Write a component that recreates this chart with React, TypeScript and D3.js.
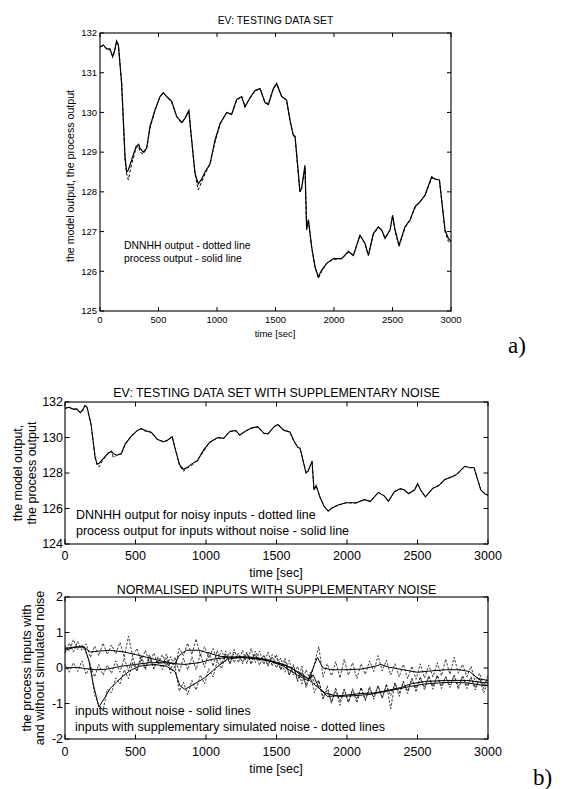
import React from 'react';
import * as d3 from 'd3';

// time axis for the output plots (sec)
const TIME = [
  0, 28, 57, 85, 108, 125, 142, 157, 185, 214,
  228, 242, 270, 308, 330, 342, 370, 399, 427, 470,
  513, 541, 570, 613, 655, 698, 726, 760, 778, 812,
  840, 869, 897, 940, 983, 1026, 1083, 1125, 1168, 1211,
  1239, 1282, 1325, 1368, 1410, 1439, 1482, 1510, 1553, 1595,
  1624, 1652, 1667, 1681, 1709, 1724, 1752, 1766, 1781, 1809,
  1838, 1866, 1895, 1937, 1994, 2066, 2123, 2166, 2222, 2265,
  2294, 2336, 2379, 2408, 2436, 2479, 2501, 2522, 2556, 2607,
  2650, 2693, 2735, 2778, 2835, 2864, 2901, 2920, 2949, 2977, 3000,
];

// process output - solid line
const PROCESS = [
  131.65, 131.7, 131.6, 131.6, 131.4, 131.55, 131.8, 131.7, 130.73, 128.88,
  128.5, 128.55, 128.8, 129.14, 129.2, 129.1, 129.0, 129.1, 129.64, 130.06,
  130.4, 130.5, 130.4, 130.28, 129.9, 129.75, 129.85, 130.05, 129.47, 128.47,
  128.2, 128.32, 128.5, 128.7, 129.3, 129.72, 130.0, 129.95, 130.33, 130.4,
  130.14, 130.37, 130.55, 130.6, 130.25, 130.2, 130.6, 130.73, 130.4, 130.31,
  129.8, 129.43, 129.4, 128.95, 128.0, 128.1, 128.67, 127.04, 127.3, 126.62,
  126.11, 125.86, 126.03, 126.2, 126.32, 126.32, 126.5, 126.4, 126.91, 126.7,
  126.4, 126.95, 127.12, 127.04, 126.83, 127.04, 127.41, 127.04, 126.66, 127.12,
  127.29, 127.63, 127.75, 127.92, 128.38, 128.32, 128.3, 127.8, 127.04, 126.83, 126.75,
];

// DNNHH output - dotted line (a)
const MODEL = [
  131.65, 131.68, 131.6, 131.58, 131.42, 131.55, 131.78, 131.7, 130.75, 128.8,
  128.45, 128.3, 128.7, 129.1, 129.15, 129.0, 128.95, 129.1, 129.6, 130.05,
  130.4, 130.48, 130.4, 130.25, 129.9, 129.72, 129.85, 130.0, 129.45, 128.45,
  128.05, 128.25, 128.45, 128.7, 129.25, 129.7, 130.0, 129.95, 130.3, 130.4,
  130.15, 130.35, 130.55, 130.6, 130.25, 130.22, 130.6, 130.7, 130.4, 130.3,
  129.8, 129.4, 129.4, 128.9, 128.0, 128.1, 128.6, 127.1, 127.3, 126.6,
  126.1, 125.82, 126.0, 126.2, 126.3, 126.32, 126.48, 126.4, 126.9, 126.7,
  126.4, 126.92, 127.1, 127.04, 126.83, 127.05, 127.4, 127.0, 126.62, 127.1,
  127.3, 127.6, 127.75, 127.9, 128.35, 128.32, 128.3, 127.8, 127.0, 126.75, 126.7,
];

// DNNHH output for noisy inputs - dotted line (b)
const MODEL_NOISY = [
  131.62, 131.72, 131.58, 131.62, 131.4, 131.5, 131.8, 131.68, 130.7, 128.85,
  128.45, 128.35, 128.75, 129.1, 129.25, 128.85, 129.05, 129.05, 129.6, 130.1,
  130.38, 130.5, 130.35, 130.3, 129.88, 129.78, 129.82, 130.05, 129.5, 128.42,
  128.1, 128.3, 128.4, 128.75, 129.2, 129.75, 129.98, 129.95, 130.35, 130.38,
  130.12, 130.38, 130.52, 130.6, 130.22, 130.2, 130.62, 130.72, 130.42, 130.3,
  129.78, 129.45, 129.38, 128.95, 128.05, 128.1, 128.65, 127.05, 127.28, 126.65,
  126.12, 125.85, 126.05, 126.18, 126.33, 126.3, 126.52, 126.38, 126.9, 126.72,
  126.42, 126.95, 127.1, 127.02, 126.85, 127.05, 127.38, 127.05, 126.65, 127.15,
  127.28, 127.62, 127.78, 127.9, 128.38, 128.3, 128.28, 127.82, 127.05, 126.85, 126.75,
];

// normalised inputs without noise - solid lines
const IN1_T = [0, 50, 100, 140, 170, 200, 240, 280, 320, 370, 420, 470, 530, 630, 720, 780, 815, 850, 910, 990, 1070, 1150, 1250, 1350, 1450, 1550, 1650, 1720, 1760, 1800, 1860, 1950, 2100, 2200, 2300, 2380, 2450, 2550, 2700, 2850, 2950, 3000];
const IN1_V = [0.55, 0.58, 0.6, 0.58, 0.2, -0.45, -1.1, -0.85, -0.58, -0.38, -0.2, -0.05, 0.05, 0.1, 0.05, -0.1, -0.5, -0.6, -0.47, -0.28, 0.0, 0.25, 0.3, 0.28, 0.2, 0.05, -0.2, -0.35, -0.2, -0.55, -0.8, -0.78, -0.72, -0.7, -0.62, -0.55, -0.45, -0.38, -0.35, -0.35, -0.4, -0.42];
const IN2_T = [0, 60, 130, 180, 250, 320, 420, 500, 600, 700, 780, 810, 860, 950, 1020, 1100, 1200, 1300, 1400, 1500, 1600, 1680, 1730, 1770, 1790, 1830, 1900, 2000, 2100, 2200, 2240, 2300, 2400, 2500, 2600, 2700, 2800, 2870, 2930, 3000];
const IN2_V = [0.5, 0.58, 0.6, 0.45, 0.48, 0.5, 0.45, 0.38, 0.28, 0.18, 0.12, 0.35, 0.5, 0.5, 0.42, 0.33, 0.3, 0.28, 0.23, 0.15, 0.02, -0.22, -0.3, 0.1, 0.3, 0.0, -0.05, -0.05, -0.03, 0.05, 0.1, 0.02, -0.05, -0.12, -0.08, -0.05, -0.05, -0.1, -0.3, -0.35];
const IN3_T = [0, 80, 150, 220, 300, 400, 500, 600, 700, 780, 850, 950, 1050, 1150, 1250, 1350, 1450, 1550, 1650, 1720, 1780, 1850, 1950, 2050, 2150, 2250, 2350, 2450, 2550, 2650, 2750, 2850, 2950, 3000];
const IN3_V = [0.0, 0.02, -0.02, -0.05, -0.03, 0.05, 0.1, 0.15, 0.15, 0.12, 0.1, 0.15, 0.25, 0.3, 0.32, 0.3, 0.22, 0.1, -0.1, -0.3, -0.5, -0.72, -0.8, -0.78, -0.75, -0.68, -0.6, -0.52, -0.45, -0.42, -0.4, -0.42, -0.48, -0.5];

// inputs with supplementary simulated noise - dotted lines (sampled every 30 s)
const NOISE_T = [
  0, 30, 60, 90, 120, 150, 180, 210, 240, 270,
  300, 330, 360, 390, 420, 450, 480, 510, 540, 570,
  600, 630, 660, 690, 720, 750, 780, 810, 840, 870,
  900, 930, 960, 990, 1020, 1050, 1080, 1110, 1140, 1170,
  1200, 1230, 1260, 1290, 1320, 1350, 1380, 1410, 1440, 1470,
  1500, 1530, 1560, 1590, 1620, 1650, 1680, 1710, 1740, 1770,
  1800, 1830, 1860, 1890, 1920, 1950, 1980, 2010, 2040, 2070,
  2100, 2130, 2160, 2190, 2220, 2250, 2280, 2310, 2340, 2370,
  2400, 2430, 2460, 2490, 2520, 2550, 2580, 2610, 2640, 2670,
  2700, 2730, 2760, 2790, 2820, 2850, 2880, 2910, 2940, 2970,
  3000,
];
const NOISY1 = [
  0.62, 0.48, 0.8, 0.52, 0.66, 0.42, 0.1, -0.75, -1.05, -1.2,
  -0.6, -0.7, -0.28, -0.45, -0.05, -0.3, 0.15, -0.1, 0.25, -0.05,
  0.3, -0.02, 0.22, -0.05, 0.28, -0.15, 0.05, -0.65, -0.4, -0.75,
  -0.35, -0.62, -0.2, -0.45, -0.02, -0.25, 0.2, -0.02, 0.38, 0.12,
  0.45, 0.32, 0.18, 0.42, 0.15, 0.48, 0.2, 0.36, 0.08, 0.38,
  0.3, -0.05, 0.18, -0.2, 0.05, -0.38, -0.1, -0.5, -0.12, -0.45,
  -0.35, -0.85, -0.62, -0.95, -0.65, -0.92, -0.6, -0.98, -0.62, -0.88,
  -0.55, -0.9, -0.58, -0.82, -0.5, -0.85, -0.48, -0.78, -0.42, -0.7,
  -0.38, -0.65, -0.3, -0.58, -0.25, -0.55, -0.22, -0.52, -0.2, -0.5,
  -0.25, -0.48, -0.2, -0.52, -0.22, -0.5, -0.25, -0.55, -0.28, -0.58,
  -0.3,
];
const NOISY2 = [
  0.42, 0.7, 0.45, 0.75, 0.5, 0.68, 0.3, 0.62, 0.35, 0.7,
  0.38, 0.65, 0.4, 0.72, 0.3, 0.9, 0.32, 0.55, 0.2, 0.5,
  0.15, 0.42, 0.1, 0.38, 0.05, 0.32, 0.0, 0.55, 0.35, 0.7,
  0.38, 0.82, 0.35, 0.6, 0.28, 0.55, 0.2, 0.5, 0.18, 0.45,
  0.15, 0.42, 0.12, 0.45, 0.1, 0.4, 0.08, 0.35, 0.05, 0.32,
  0.0, 0.28, -0.12, 0.22, -0.2, 0.05, -0.45, -0.05, -0.35, 0.15,
  0.6, -0.25, 0.12, -0.22, 0.18, -0.28, 0.25, -0.2, 0.15, -0.3,
  0.12, -0.18, 0.2, -0.1, 0.35, -0.08, 0.22, -0.2, 0.12, -0.25,
  0.1, -0.3, 0.05, -0.32, 0.12, -0.28, 0.08, -0.25, 0.15, -0.22,
  0.25, -0.18, 0.3, -0.15, 0.1, -0.25, 0.05, -0.4, -0.15, -0.5,
  -0.22,
];
const NOISY3 = [
  0.1, -0.12, 0.15, -0.1, 0.2, -0.18, 0.05, -0.25, 0.1, -0.2,
  0.08, -0.15, 0.2, -0.12, 0.28, -0.08, 0.3, -0.05, 0.35, 0.0,
  0.38, -0.02, 0.32, 0.05, 0.4, -0.05, 0.3, -0.12, 0.28, -0.05,
  0.32, -0.05, 0.4, 0.02, 0.45, 0.05, 0.5, 0.1, 0.48, 0.12,
  0.52, 0.15, 0.5, 0.12, 0.55, 0.15, 0.48, 0.1, 0.45, 0.05,
  0.38, -0.05, 0.28, -0.2, 0.1, -0.35, 0.05, -0.55, -0.2, -0.7,
  -0.35, -0.88, -0.5, -1.0, -0.55, -1.05, -0.6, -0.95, -0.58, -0.98,
  -0.55, -0.92, -0.52, -0.88, -0.5, -0.85, -0.45, -1.15, -0.42, -0.8,
  -0.38, -0.72, -0.3, -0.68, -0.28, -0.62, -0.25, -0.6, -0.22, -0.58,
  -0.25, -0.55, -0.22, -0.6, -0.25, -0.58, -0.28, -0.62, -0.3, -0.7,
  -0.4,
];

const X_TICKS = [0, 500, 1000, 1500, 2000, 2500, 3000];
const A_Y_TICKS = [125, 126, 127, 128, 129, 130, 131, 132];
const B1_Y_TICKS = [124, 126, 128, 130, 132];
const B2_Y_TICKS = [-2, -1, 0, 1, 2];

const FONT = '"Liberation Sans", Arial, Helvetica, sans-serif';

type Box = { l: number; t: number; r: number; b: number };

function Frame({ box, x, y, yTicks, fs, tick, xOff, yOff }: any) {
  return (
    <g>
      <rect x={box.l} y={box.t} width={box.r - box.l} height={box.b - box.t} fill="none" stroke="#000" strokeWidth={1.1} />
      {X_TICKS.map((v) => (
        <g key={'x' + v}>
          <line x1={x(v)} x2={x(v)} y1={box.b} y2={box.b - tick} stroke="#000" />
          <line x1={x(v)} x2={x(v)} y1={box.t} y2={box.t + tick} stroke="#000" />
          <text x={x(v)} y={box.b + xOff} textAnchor="middle" fontSize={fs}>{v}</text>
        </g>
      ))}
      {yTicks.map((v: number) => (
        <g key={'y' + v}>
          <line x1={box.l} x2={box.l + tick} y1={y(v)} y2={y(v)} stroke="#000" />
          <line x1={box.r} x2={box.r - tick} y1={y(v)} y2={y(v)} stroke="#000" />
          <text x={box.l - yOff} y={y(v)} dy="0.35em" textAnchor="end" fontSize={fs}>{v}</text>
        </g>
      ))}
    </g>
  );
}

export default function App() {
  const boxA: Box = { l: 100, t: 33, r: 451, b: 311 };
  const boxB1: Box = { l: 65, t: 402, r: 488, b: 544 };
  const boxB2: Box = { l: 65, t: 597, r: 488, b: 739 };

  const xA = d3.scaleLinear().domain([0, 3000]).range([boxA.l, boxA.r]);
  const yA = d3.scaleLinear().domain([125, 132]).range([boxA.b, boxA.t]);
  const xB = d3.scaleLinear().domain([0, 3000]).range([boxB1.l, boxB1.r]);
  const yB1 = d3.scaleLinear().domain([124, 132]).range([boxB1.b, boxB1.t]);
  const yB2 = d3.scaleLinear().domain([-2, 2]).range([boxB2.b, boxB2.t]);

  const path = (ts: number[], vs: number[], x: any, y: any) =>
    d3.line<number>().x((_, i) => x(ts[i])).y((d) => y(d))(vs) || '';

  const solids = [[IN1_T, IN1_V], [IN2_T, IN2_V], [IN3_T, IN3_V]];
  const noisy = [NOISY1, NOISY2, NOISY3];

  return (
    <svg width={563} height={789} style={{ position: 'absolute', left: 0, top: 0, background: '#fff' }} fontFamily={FONT} fill="#000">
      <rect width={563} height={789} fill="#fff" />

      {/* a) */}
      <text x={(boxA.l + boxA.r) / 2} y={24} textAnchor="middle" fontSize={10.4}>EV: TESTING DATA SET</text>
      <Frame box={boxA} x={xA} y={yA} yTicks={A_Y_TICKS} fs={9.5} tick={4} xOff={11.5} yOff={3} />
      <path d={path(TIME, MODEL, xA, yA)} fill="none" stroke="#000" strokeWidth={1} strokeDasharray="3 2" />
      <path d={path(TIME, PROCESS, xA, yA)} fill="none" stroke="#000" strokeWidth={1.2} />
      <text x={124} y={249} fontSize={10.4}>DNNHH output - dotted line</text>
      <text x={124} y={262} fontSize={10.4}>process output - solid line</text>
      <text x={275} y={337} textAnchor="middle" fontSize={9.5}>time [sec]</text>
      <text transform="translate(74,176) rotate(-90)" textAnchor="middle" fontSize={10.6}>the model output, the process output</text>
      <text x={508} y={353} fontSize={23} fontFamily='"Liberation Serif", "Times New Roman", serif'>a)</text>

      {/* b) upper */}
      <text x={(boxB1.l + boxB1.r) / 2} y={396.5} textAnchor="middle" fontSize={12.4}>EV: TESTING DATA SET WITH SUPPLEMENTARY NOISE</text>
      <Frame box={boxB1} x={xB} y={yB1} yTicks={B1_Y_TICKS} fs={12.5} tick={4.5} xOff={15.5} yOff={2} />
      <path d={path(TIME, MODEL_NOISY, xB, yB1)} fill="none" stroke="#000" strokeWidth={0.9} strokeDasharray="3 2" />
      <path d={path(TIME, PROCESS, xB, yB1)} fill="none" stroke="#000" strokeWidth={1.1} />
      <text x={76} y={518.5} fontSize={12.5}>DNNHH output for noisy inputs - dotted line</text>
      <text x={76} y={534.5} fontSize={12.5}>process output for inputs without noise - solid line</text>
      <text x={276} y={576.5} textAnchor="middle" fontSize={12.5}>time [sec]</text>
      <text transform="translate(22,473) rotate(-90)" textAnchor="middle" fontSize={12.5}>the model output,</text>
      <text transform="translate(36,473) rotate(-90)" textAnchor="middle" fontSize={12.5}>the process output</text>

      {/* b) lower */}
      <text x={(boxB2.l + boxB2.r) / 2} y={593.5} textAnchor="middle" fontSize={12.4}>NORMALISED INPUTS WITH SUPPLEMENTARY NOISE</text>
      <Frame box={boxB2} x={xB} y={yB2} yTicks={B2_Y_TICKS} fs={12.5} tick={4.5} xOff={16.5} yOff={2} />
      {noisy.map((vs, i) => (
        <path key={'n' + i} d={path(NOISE_T, vs, xB, yB2)} fill="none" stroke="#000" strokeWidth={0.75} strokeDasharray="2.5 1.5" />
      ))}
      {solids.map(([ts, vs], i) => (
        <path key={'s' + i} d={path(ts, vs, xB, yB2)} fill="none" stroke="#000" strokeWidth={1} />
      ))}
      <text x={75} y={714.5} fontSize={12.5}>inputs without noise - solid lines</text>
      <text x={75} y={731} fontSize={12.5}>inputs with supplementary simulated noise - dotted lines</text>
      <text x={276} y={772.5} textAnchor="middle" fontSize={12.5}>time [sec]</text>
      <text transform="translate(31,668) rotate(-90)" textAnchor="middle" fontSize={12.5}>the process inputs with</text>
      <text transform="translate(44,668) rotate(-90)" textAnchor="middle" fontSize={12.5}>and without simulated noise</text>
      <text x={533} y={785} fontSize={23} fontFamily='"Liberation Serif", "Times New Roman", serif'>b)</text>
    </svg>
  );
}
